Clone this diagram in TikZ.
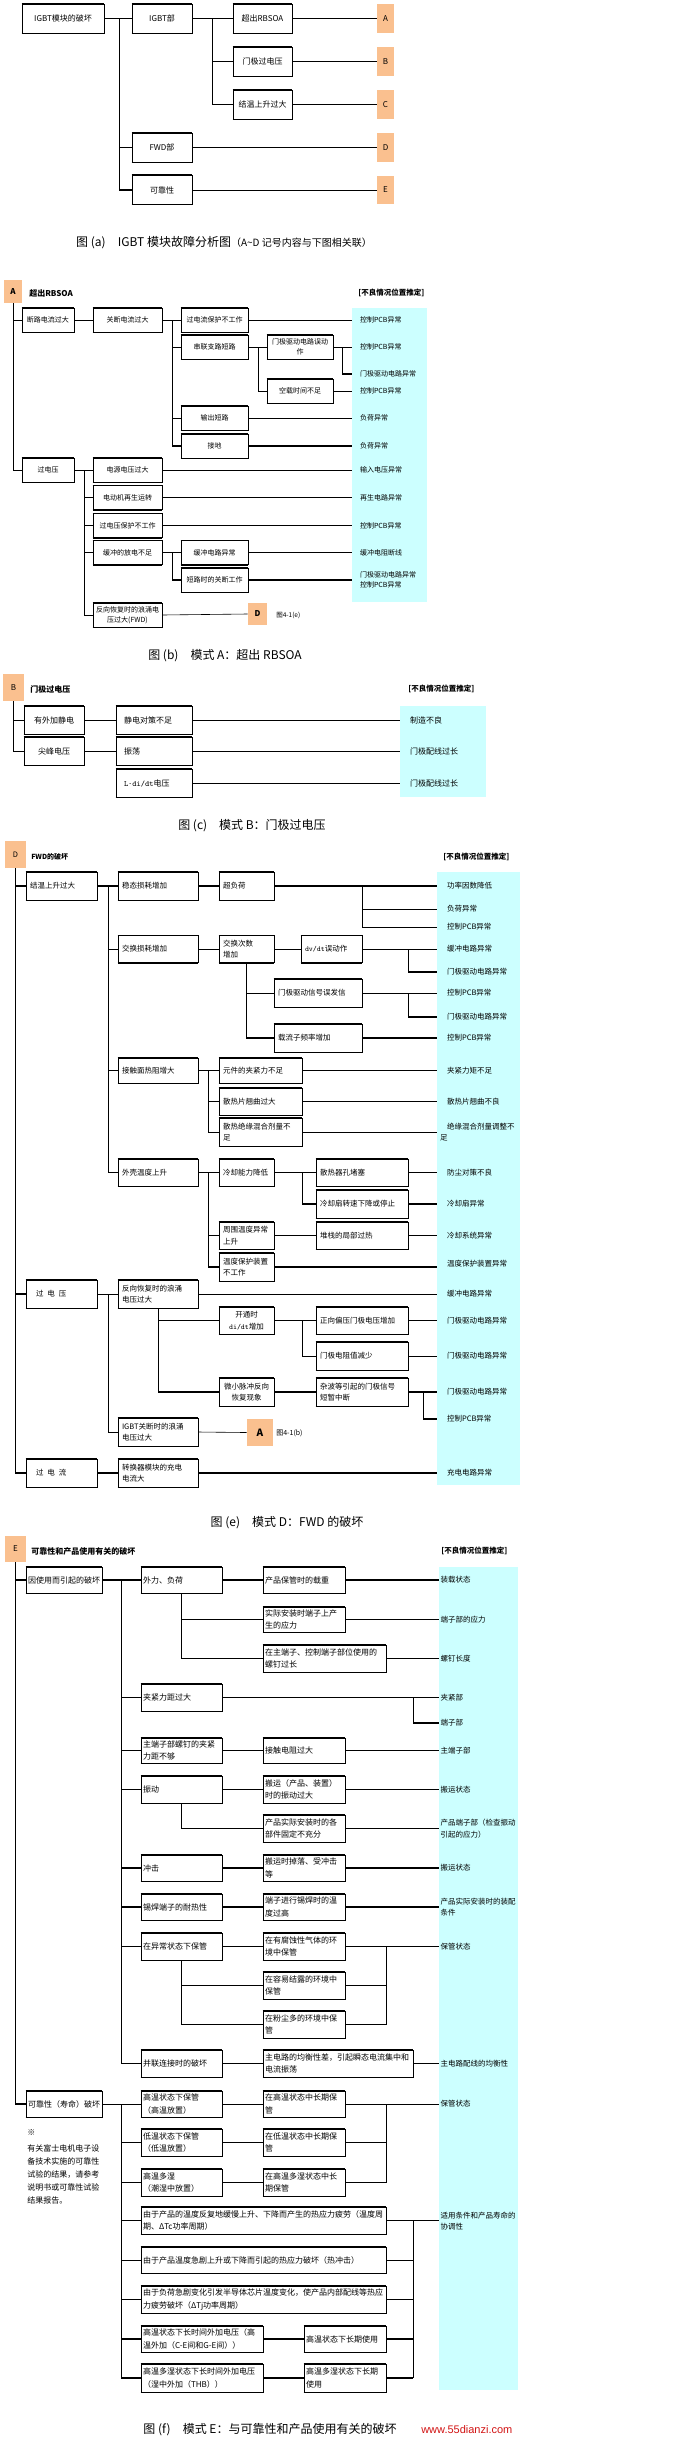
\documentclass[tikz,border=0pt]{standalone}
\usepackage{fontspec}
\setmainfont{Noto Sans CJK SC}
\newfontfamily\webfont{Liberation Sans}
\usetikzlibrary{calc}
\definecolor{markorange}{RGB}{250,192,143}
\definecolor{rescyan}{RGB}{204,255,255}
\definecolor{webred}{RGB}{210,20,20}
\tikzset{cell/.style={draw, line width=0.6pt, inner xsep=2pt, inner ysep=1pt, align=center,
        append after command={(\tikzlastnode.north west) edge[line width=1.4pt] (\tikzlastnode.north east)
            (\tikzlastnode.south west) edge[line width=1.4pt] (\tikzlastnode.south east)}},
    cw/.style 2 args={minimum width=#1pt, minimum height=#2pt},
    lw/.style 2 args={align=left, text width=#1pt, minimum height=#2pt},
    markbox/.style={fill=markorange, inner sep=0pt},
    res/.style={anchor=west, inner ysep=0pt, outer sep=0pt, align=left},
    secttl/.style={anchor=west, inner sep=0pt, font=\bfseries\fontsize{8}{10}\selectfont},
    hdr/.style={anchor=west, inner sep=0pt, font=\bfseries\fontsize{7.5}{9}\selectfont},
    heavy/.style={line width=1.6pt},
    capt/.style={font=\fontsize{12}{14}\selectfont},
    sz7/.style={font=\fontsize{7}{10.5}\selectfont},
    sz75/.style={font=\fontsize{7.5}{11.5}\selectfont},
    sz8/.style={font=\fontsize{8}{12.5}\selectfont}}

\begin{document}
\begin{tikzpicture}[x=1pt, y=-1pt, line width=0.6pt]
    \useasboundingbox (0,0) rectangle (693,2443);
    \fill[white] (0,0) rectangle (693,2443);

    % (a) overview
    \begin{scope}[every node/.append style={sz8}]
    \node[cell, cw={82}{29}] (a0) at (63,18.5) {IGBT模块的破坏};
    \node[cell, cw={60}{29}] (a1) at (162,18.5) {IGBT部};
    \node[cell, cw={59}{29}] (a2) at (262.5,18.5) {超出RBSOA};
    \node[cell, cw={59}{29}] (a3) at (262.5,61.5) {门极过电压};
    \node[cell, cw={59}{29}] (a4) at (262.5,104.5) {结温上升过大};
    \node[cell, cw={60}{29}] (a5) at (162,147.5) {FWD部};
    \node[cell, cw={60}{29}] (a6) at (162,190) {可靠性};
    \node[markbox, minimum width=17pt, minimum height=29pt] (ma) at (385.5,18.5) {A};
    \node[markbox, minimum width=17pt, minimum height=29pt] (mb) at (385.5,61.5) {B};
    \node[markbox, minimum width=17pt, minimum height=29pt] (mc) at (385.5,104.5) {C};
    \node[markbox, minimum width=17pt, minimum height=29pt] (md) at (385.5,147.5) {D};
    \node[markbox, minimum width=17pt, minimum height=28pt] (me) at (385.5,190) {E};
    \end{scope}
    \draw[heavy] (a0.east) -- (a1.west);
    \draw[heavy] (a0.east) ++(15,0) |- (a6.west);
    \draw (a0.east) ++(15,0) |- (a5.west);
    \draw[heavy] (a1.east) -- (a2.west);
    \draw (a1.east) ++(20,0) |- (a4.west);
    \draw (a1.east) ++(20,0) |- (a3.west);
    \draw[heavy] (a2.east) -- (ma.west);
    \draw (a3.east) -- (mb.west);
    \draw (a4.east) -- (mc.west);
    \draw (a5.east) -- (md.west);
    \draw (a6.east) -- (me.west);
    \node[capt] (capa) at (224,243) {图 (a)\quad IGBT 模块故障分析图{\fontsize{10}{12}\selectfont（A\textasciitilde D 记号内容与下图相关联）}};

    % (b) mode A
    \fill[rescyan] (352,308) rectangle (427,602);
    \begin{scope}[every node/.append style={sz7}]
    \node[markbox, minimum width=18pt, minimum height=23pt, font=\bfseries\fontsize{8}{9}\selectfont] (mA) at (13,291.5) {A};
    \node[secttl] (tA) at (29,293) {超出RBSOA};
    \node[hdr] (hA) at (358,293) {[不良情况位置推定]};
    \node[cell, cw={52}{24}] (b1) at (48,320) {断路电流过大};
    \node[cell, cw={69}{24}] (b2) at (127.5,320) {关断电流过大};
    \node[cell, cw={67}{24}] (b3) at (214.5,320) {过电流保护不工作};
    \node[cell, cw={67}{24}] (b4) at (214.5,347) {串联支路短路};
    \node[cell, cw={66}{24}] (b5) at (300,347) {门极驱动电路误动\\作};
    \node[cell, cw={66}{24}] (b6) at (300,391) {空载时间不足};
    \node[cell, cw={67}{24}] (b7) at (214.5,418) {输出短路};
    \node[cell, cw={67}{24}] (b8) at (214.5,446) {接地};
    \node[cell, cw={52}{24}] (b9) at (48,470) {过电压};
    \node[cell, cw={69}{24}] (b10) at (127.5,470) {电源电压过大};
    \node[cell, cw={69}{24}] (b11) at (127.5,497.5) {电动机再生运转};
    \node[cell, cw={69}{24}] (b12) at (127.5,525.5) {过电压保护不工作};
    \node[cell, cw={69}{24}] (b13) at (127.5,552.5) {缓冲的放电不足};
    \node[cell, cw={67}{24}] (b14) at (214.5,552.5) {缓冲电路异常};
    \node[cell, cw={67}{24}] (b15) at (214.5,580) {短路时的关断工作};
    \node[cell, cw={69}{24}] (b16) at (127.5,615) {反向恢复时的浪涌电\\压过大(FWD)};
    \node[markbox, minimum width=19pt, minimum height=22pt, font=\bfseries\fontsize{8}{9}\selectfont] (mD2) at (257.5,614) {D};
    \node[anchor=west, inner sep=0pt, font=\fontsize{6.5}{8}\selectfont] (ref1) at (276,615) {图4-1(e)};
    \node[res, inner xsep=8pt] (r1) at (352,320) {控制PCB异常};
    \node[res, inner xsep=8pt] (r2) at (352,347) {控制PCB异常};
    \node[res, inner xsep=8pt] (r3) at (352,374) {门极驱动电路异常};
    \node[res, inner xsep=8pt] (r4) at (352,391) {控制PCB异常};
    \node[res, inner xsep=8pt] (r5) at (352,418) {负荷异常};
    \node[res, inner xsep=8pt] (r6) at (352,446) {负荷异常};
    \node[res, inner xsep=8pt] (r7) at (352,470) {输入电压异常};
    \node[res, inner xsep=8pt] (r8) at (352,497.5) {再生电路异常};
    \node[res, inner xsep=8pt] (r9) at (352,525.5) {控制PCB异常};
    \node[res, inner xsep=8pt] (r10) at (352,552.5) {缓冲电阻断线};
    \node[res, inner xsep=8pt] (r11) at (352,580) {门极驱动电路异常\\控制PCB异常};
    \end{scope}
    \draw (mA.south) |- (b1.west);
    \draw (mA.south) |- (b9.west);
    \draw (b1.east) -- (b2.west);
    \draw (b2.east) -- (b3.west);
    \coordinate (bj1) at ($(b2.east)+(10,0)$);
    \draw (bj1) |- (b8.west);
    \draw (bj1 |- b4.west) -- (b4.west);
    \draw (bj1 |- b7.west) -- (b7.west);
    \draw[heavy] (bj1 |- b8.west) -- (b8.west);
    \draw (b4.east) -- (b5.west);
    \draw (b4.east) ++(10,0) |- (b6.west);
    \draw (b5.east) -- (r2.west);
    \draw (b5.east) ++(9,0) |- (r3.west);
    \draw[heavy] (r3.west -| b5.east) ++(9,0) -- (r3.west);
    \draw (b3.east) -- (r1.west);
    \draw (b6.east) -- (r4.west);
    \draw (b7.east) -- (r5.west);
    \draw[heavy] (b8.east) -- (r6.west);
    \draw (b9.east) -- (b10.west);
    \coordinate (bj2) at ($(b9.east)+(10,0)$);
    \draw (bj2) |- (b16.west);
    \draw[heavy] (bj2 |- b11.west) -- (b11.west);
    \draw[heavy] (bj2 |- b12.west) -- (b12.west);
    \draw (bj2 |- b13.west) -- (b13.west);
    \draw (b10.east) -- (r7.west);
    \draw[heavy] (b11.east) -- (r8.west);
    \draw[heavy] (b12.east) -- (r9.west);
    \draw (b13.east) -- (b14.west);
    \draw (b13.east) ++(10,0) |- (b15.west);
    \draw[heavy] (b15.west -| b13.east) ++(10,0) -- (b15.west);
    \draw (b14.east) -- (r10.west);
    \draw[heavy] (b15.east) -- (r11.west);
    \draw (b16.east) -- (mD2.west);
    \node[capt] (capb) at (225,656) {图 (b)\quad 模式 A：超出 RBSOA};

    % (c) mode B
    \fill[rescyan] (400,706) rectangle (486,797);
    \begin{scope}[every node/.append style={sz8}]
    \node[markbox, minimum width=21pt, minimum height=27pt] (mB) at (13.5,687.5) {B};
    \node[secttl] (tB) at (30,689) {门极过电压};
    \node[hdr] (hB) at (408,689) {[不良情况位置推定]};
    \node[cell, cw={60}{28}] (c1) at (54,720) {有外加静电};
    \node[cell, cw={60}{28}] (c2) at (54,751) {尖峰电压};
    \node[cell, lw={60}{28}, inner xsep=8pt] (c3) at (154,720) {静电对策不足};
    \node[cell, lw={60}{28}, inner xsep=8pt] (c4) at (154,751) {振荡};
    \node[cell, lw={60}{28}, inner xsep=8pt] (c5) at (154,783) {{\ttfamily L·di/dt}电压};
    \node[res, inner xsep=10pt] (q1) at (400,720) {制造不良};
    \node[res, inner xsep=10pt] (q2) at (400,751) {门极配线过长};
    \node[res, inner xsep=10pt] (q3) at (400,783) {门极配线过长};
    \end{scope}
    \draw (mB.south) |- (c1.west);
    \draw (mB.south) |- (c2.west);
    \draw (c1.east) -- (c3.west);
    \draw (c2.east) -- (c4.west);
    \draw (c3.east) -- (q1.west);
    \draw (c4.east) -- (q2.west);
    \draw (c5.east) -- (q3.west);
    \node[capt] (capc) at (252,826) {图 (c)\quad 模式 B：门极过电压};

    % (e) mode D
    \fill[rescyan] (437,872) rectangle (520,1485);
    \begin{scope}[every node/.append style={sz75}]
    \node[markbox, minimum width=21pt, minimum height=27pt] (mD) at (15.5,854.5) {D};
    \node[secttl, font=\bfseries\fontsize{7}{9}\selectfont] (tD) at (31,857) {FWD的破坏};
    \node[hdr] (hD) at (443,857) {[不良情况位置推定]};
    \node[cell, lw={63}{28}, inner xsep=4pt] (d1) at (61.5,886) {结温上升过大};
    \node[cell, lw={72}{28}, inner xsep=4pt] (d2) at (158,886) {稳态损耗增加};
    \node[cell, lw={47}{28}, inner xsep=4pt] (d3) at (246.5,886) {超负荷};
    \node[cell, lw={72}{27}, inner xsep=4pt] (d4) at (158,949) {交换损耗增加};
    \node[cell, lw={47}{27}, inner xsep=4pt] (d5) at (246.5,949) {交换次数\\增加};
    \node[cell, lw={53}{27}, inner xsep=4pt] (d6) at (331.5,949) {{\ttfamily dv/dt}误动作};
    \node[cell, lw={80}{28}, inner xsep=4pt] (d7) at (318,993) {门极驱动信号误发信};
    \node[cell, lw={80}{28}, inner xsep=4pt] (d8) at (318,1038) {载流子频率增加};
    \node[cell, lw={72}{25}, inner xsep=4pt] (d9) at (158,1070.5) {接触面热阻增大};
    \node[cell, lw={75}{25}, inner xsep=4pt] (d10) at (260.5,1070.5) {元件的夹紧力不足};
    \node[cell, lw={75}{27}, inner xsep=4pt] (d11) at (260.5,1101.5) {散热片翘曲过大};
    \node[cell, lw={75}{28}, inner xsep=4pt] (d12) at (260.5,1132) {散热绝缘混合剂量不\\足};
    \node[cell, lw={72}{27}, inner xsep=4pt] (d13) at (158,1172.5) {外壳温度上升};
    \node[cell, lw={47}{27}, inner xsep=4pt] (d14) at (246.5,1172.5) {冷却能力降低};
    \node[cell, lw={84}{27}, inner xsep=4pt] (d15) at (362,1172.5) {散热器孔堵塞};
    \node[cell, lw={84}{28}, inner xsep=4pt] (d16) at (362,1204) {冷却扇转速下降或停止};
    \node[cell, lw={47}{27}, inner xsep=4pt] (d17) at (246.5,1235.5) {周围温度异常\\上升};
    \node[cell, lw={84}{27}, inner xsep=4pt] (d18) at (362,1235.5) {堆栈的局部过热};
    \node[cell, lw={47}{28}, inner xsep=4pt] (d19) at (246.5,1267) {温度保护装置\\不工作};
    \node[cell, lw={63}{28}, inner xsep=4pt] (d20) at (61.5,1294) {\hspace*{6pt}过\hspace{4pt}电\hspace{4pt}压};
    \node[cell, lw={72}{28}, inner xsep=4pt] (d21) at (158,1294) {反向恢复时的浪涌\\电压过大};
    \node[cell, cw={55}{27}] (d22) at (246.5,1320.5) {开通时\\{\ttfamily di/dt}增加};
    \node[cell, lw={84}{27}, inner xsep=4pt] (d23) at (362,1320.5) {正向偏压门极电压增加};
    \node[cell, lw={84}{28}, inner xsep=4pt] (d24) at (362,1356) {门极电阻值减少};
    \node[cell, cw={55}{28}] (d25) at (246.5,1392) {微小脉冲反向\\恢复现象};
    \node[cell, lw={84}{28}, inner xsep=4pt] (d26) at (362,1392) {杂波等引起的门极信号\\短暂中断};
    \node[cell, lw={72}{28}, inner xsep=4pt] (d27) at (158,1432) {IGBT关断时的浪涌\\电压过大};
    \node[markbox, minimum width=26pt, minimum height=27pt, font=\bfseries\fontsize{10}{12}\selectfont] (mA2) at (260,1432.5) {A};
    \node[anchor=west, inner sep=0pt, font=\fontsize{7}{8}\selectfont] (ref2) at (276,1433) {图4-1(b)};
    \node[cell, lw={63}{28}, inner xsep=4pt] (d28) at (61.5,1473) {\hspace*{6pt}过\hspace{4pt}电\hspace{4pt}流};
    \node[cell, lw={72}{28}, inner xsep=4pt] (d29) at (158,1473) {转换器模块的充电\\电流大};
    \node[res, inner xsep=10pt] (s1) at (437,886) {功率因数降低};
    \node[res, inner xsep=10pt] (s2) at (437,909) {负荷异常};
    \node[res, inner xsep=10pt] (s3) at (437,927) {控制PCB异常};
    \node[res, inner xsep=10pt] (s4) at (437,949) {缓冲电路异常};
    \node[res, inner xsep=10pt] (s5) at (437,972) {门极驱动电路异常};
    \node[res, inner xsep=10pt] (s6) at (437,993) {控制PCB异常};
    \node[res, inner xsep=10pt] (s7) at (437,1017) {门极驱动电路异常};
    \node[res, inner xsep=10pt] (s8) at (437,1038) {控制PCB异常};
    \node[res, inner xsep=10pt] (s9) at (437,1070.5) {夹紧力矩不足};
    \node[res, inner xsep=10pt] (s10) at (437,1101.5) {散热片翘曲不良};
    \node[res, inner xsep=3pt] (s11) at (437,1132) {\hspace*{7pt}绝缘混合剂量调整不\\足};
    \node[res, inner xsep=10pt] (s12) at (437,1172.5) {防尘对策不良};
    \node[res, inner xsep=10pt] (s13) at (437,1204) {冷却扇异常};
    \node[res, inner xsep=10pt] (s14) at (437,1235.5) {冷却系统异常};
    \node[res, inner xsep=10pt] (s15) at (437,1264) {温度保护装置异常};
    \node[res, inner xsep=10pt] (s16) at (437,1294) {缓冲电路异常};
    \node[res, inner xsep=10pt] (s17) at (437,1320.5) {门极驱动电路异常};
    \node[res, inner xsep=10pt] (s18) at (437,1356) {门极驱动电路异常};
    \node[res, inner xsep=10pt] (s19) at (437,1392) {门极驱动电路异常};
    \node[res, inner xsep=10pt] (s20) at (437,1419) {控制PCB异常};
    \node[res, inner xsep=10pt] (s21) at (437,1473) {充电电路异常};
    \end{scope}
    \draw[heavy] (mD.south) |- (d1.west);
    \draw[heavy] (mD.south) |- (d28.west);
    \draw[heavy] (mD.south |- d20.west) -- (d20.west);
    \draw[heavy] (d1.east) -- (d2.west);
    \coordinate (dj1) at ($(d1.east)+(11,0)$);
    \draw[heavy] (dj1) -- (dj1 |- d13.west);
    \foreach \n in {d4,d9,d13} \draw (dj1 |- \n.west) -- (\n.west);
    \draw[heavy] (d2.east) -- (d3.west);
    \draw[heavy] (d3.east) -- (s1.west);
    \coordinate (dk1) at (d3.east -| d6.east);
    \draw (dk1) |- (s3.west);
    \draw (dk1 |- s2.west) -- (s2.west);
    \draw (d4.east) -- (d5.west);
    \draw (d5.east) -- (d6.west);
    \draw (d6.east) -- (s4.west);
    \coordinate (dk2) at ($(d6.east)+(46,0)$);
    \draw (dk2) -- (dk2 |- s5.west);
    \draw[heavy] (dk2 |- s5.west) -- (s5.west);
    \draw (d5.south) |- (d7.west);
    \draw[heavy] (d5.south) |- (d8.west);
    \draw (d7.east) -- (s6.west);
    \coordinate (dk3) at ($(d7.east)+(46,0)$);
    \draw (dk3) -- (dk3 |- s7.west);
    \draw[heavy] (dk3 |- s7.west) -- (s7.west);
    \draw[heavy] (d8.east) -- (s8.west);
    \draw (d9.east) -- (d10.west);
    \coordinate (dj2) at ($(d9.east)+(10,0)$);
    \draw (dj2) |- (d12.west);
    \draw[heavy] (dj2 |- d11.west) -- (d11.west);
    \draw (d10.east) -- (s9.west);
    \draw[heavy] (d11.east) -- (s10.west);
    \draw (d12.east) -- (s11.west);
    \draw (d13.east) -- (d14.west);
    \coordinate (dj3) at ($(d13.east)+(10,0)$);
    \draw (dj3) |- (d19.west);
    \draw (dj3 |- d17.west) -- (d17.west);
    \draw[heavy] (dj3 |- d19.west) -- (d19.west);
    \draw (d14.east) -- (d15.west);
    \coordinate (dj4) at ($(d14.east)+(28,0)$);
    \draw (dj4) |- (d16.west);
    \draw[heavy] (dj4 |- d16.west) -- (d16.west);
    \draw (d15.east) -- (s12.west);
    \draw[heavy] (d16.east) -- (s13.west);
    \draw (d17.east) -- (d18.west);
    \draw (d18.east) -- (s14.west);
    \draw[heavy] (d19.east) -- (s15.west |- d19.east);
    \draw (d20.east) -- (d21.west);
    \coordinate (dj5) at ($(d20.east)+(11,0)$);
    \draw[heavy] (dj5) -- (dj5 |- d27.west);
    \draw (dj5 |- d27.west) -- (d27.west);
    \draw (d21.east) -- (s16.west);
    \draw (d21.south) |- (d25.west);
    \draw (d21.south |- d22.west) -- (d22.west);
    \draw[heavy] (d21.south |- d25.west) -- (d25.west);
    \draw (d22.east) -- (d23.west);
    \coordinate (dj6) at ($(d22.east)+(28,0)$);
    \draw (dj6) |- (d24.west);
    \draw (d23.east) -- (s17.west);
    \draw (d24.east) -- (s18.west);
    \draw[heavy] (d25.east) -- (d26.west);
    \draw[heavy] (d26.east) -- (s19.west);
    \draw[heavy] (d26.east) ++(15,0) |- (s20.west);
    \draw (d27.east) -- (mA2.west);
    \draw[heavy] (d28.east) -- (d29.west);
    \draw[heavy] (d29.east) -- (s21.west);
    \node[capt] (cape) at (287,1523) {图 (e)\quad 模式 D：FWD 的破坏};

    % (f) mode E
    \fill[rescyan] (439,1567) rectangle (518,2390);
    \begin{scope}[every node/.append style={sz8}]
    \node[markbox, minimum width=21pt, minimum height=26pt] (mE) at (15.5,1549) {E};
    \node[secttl] (tE) at (31,1551) {可靠性和产品使用有关的破坏};
    \node[hdr] (hE) at (441,1551) {[不良情况位置推定]};
    \node[cell, lw={72}{26}] (e1) at (64,1580) {因使用而引起的破坏};
    \node[cell, lw={77}{26}] (e2) at (181.5,1580) {外力、负荷};
    \node[cell, lw={78}{26}] (e3) at (304,1580) {产品保管时的载重};
    \node[cell, lw={78}{25}] (e4) at (304,1619.5) {实际安装时端子上产\\生的应力};
    \node[cell, lw={119}{27}] (e5) at (324.5,1658.5) {在主端子、控制端子部位使用的\\螺钉过长};
    \node[cell, lw={77}{27}] (e6) at (181.5,1697.5) {夹紧力距过大};
    \node[cell, lw={77}{25}] (e7) at (181.5,1750.5) {主端子部螺钉的夹紧\\力距不够};
    \node[cell, lw={78}{25}] (e8) at (304,1750.5) {接触电阻过大};
    \node[cell, lw={77}{27}] (e9) at (181.5,1789.5) {振动};
    \node[cell, lw={78}{27}] (e10) at (304,1789.5) {搬运（产品、装置）\\时的振动过大};
    \node[cell, lw={78}{27}] (e11) at (304,1828.5) {产品实际安装时的各\\部件固定不充分};
    \node[cell, lw={77}{26}] (e12) at (181.5,1868) {冲击};
    \node[cell, lw={78}{26}] (e13) at (304,1868) {搬运时掉落、受冲击\\等};
    \node[cell, lw={77}{26}] (e14) at (181.5,1907) {锡焊端子的耐热性};
    \node[cell, lw={78}{26}] (e15) at (304,1907) {端子进行锡焊时的温\\度过高};
    \node[cell, lw={77}{27}] (e16) at (181.5,1946.5) {在异常状态下保管};
    \node[cell, lw={78}{27}] (e17) at (304,1946.5) {在有腐蚀性气体的环\\境中保管};
    \node[cell, lw={78}{27}] (e18) at (304,1985.5) {在容易结露的环境中\\保管};
    \node[cell, lw={78}{27}] (e19) at (304,2024.5) {在粉尘多的环境中保\\管};
    \node[cell, lw={77}{27}] (e20) at (181.5,2063.5) {并联连接时的破坏};
    \node[cell, lw={146}{27}] (e21) at (338,2063.5) {主电路的均衡性差，引起瞬态电流集中和\\电流振荡};
    \node[cell, lw={72}{26}] (e22) at (64,2104) {可靠性（寿命）破坏};
    \node[cell, lw={77}{26}] (e23) at (181.5,2104) {高温状态下保管\\（高温放置）};
    \node[cell, lw={78}{26}] (e24) at (304,2104) {在高温状态中长期保\\管};
    \node[cell, lw={77}{27}] (e25) at (181.5,2142.5) {低温状态下保管\\（低温放置）};
    \node[cell, lw={78}{27}] (e26) at (304,2142.5) {在低温状态中长期保\\管};
    \node[cell, lw={77}{27}] (e27) at (181.5,2182.5) {高温多湿\\（潮湿中放置）};
    \node[cell, lw={78}{27}] (e28) at (304,2182.5) {在高温多湿状态中长\\期保管};
    \node[cell, lw={241}{27}] (e29) at (263.5,2220.5) {由于产品的温度反复地缓慢上升、下降而产生的热应力疲劳（温度周\\期、ΔTc功率周期）};
    \node[cell, lw={241}{26}] (e30) at (263.5,2260) {由于产品温度急剧上升或下降而引起的热应力破坏（热冲击）};
    \node[cell, lw={241}{27}] (e31) at (263.5,2299.5) {由于负荷急剧变化引发半导体芯片温度变化，使产品内部配线等热应\\力疲劳破坏（ΔTj功率周期）};
    \node[cell, lw={118}{26}] (e32) at (202,2339) {高温状态下长时间外加电压（高\\温外加（C-E间和G-E间））};
    \node[cell, lw={78}{26}] (e33) at (345,2339) {高温状态下长期使用};
    \node[cell, lw={118}{28}] (e34) at (202,2378) {高温多湿状态下长时间外加电压\\（湿中外加（THB））};
    \node[cell, lw={78}{28}] (e35) at (345,2378) {高温多湿状态下长期\\使用};
    \node[anchor=north west, inner sep=0pt, align=left, font=\fontsize{8}{13}\selectfont] (note) at (27,2129) {※\\[3pt]有关富士电机电子设\\备技术实施的可靠性\\试验的结果，请参考\\说明书或可靠性试验\\结果报告。};
    \end{scope}
    \begin{scope}[every node/.append style={sz75}]
    \node[res, inner xsep=1.5pt] (u1) at (439,1580) {装载状态};
    \node[res, inner xsep=1.5pt] (u2) at (439,1619.5) {端子部的应力};
    \node[res, inner xsep=1.5pt] (u3) at (439,1658.5) {螺钉长度};
    \node[res, inner xsep=1.5pt] (u4) at (439,1697.5) {夹紧部};
    \node[res, inner xsep=1.5pt] (u5) at (439,1723) {端子部};
    \node[res, inner xsep=1.5pt] (u6) at (439,1750.5) {主端子部};
    \node[res, inner xsep=1.5pt] (u7) at (439,1789.5) {搬运状态};
    \node[res, inner xsep=1.5pt] (u8) at (439,1828.5) {产品端子部（检查振动\\引起的应力）};
    \node[res, inner xsep=1.5pt] (u9) at (439,1868) {搬运状态};
    \node[res, inner xsep=1.5pt] (u10) at (439,1907) {产品实际安装时的装配\\条件};
    \node[res, inner xsep=1.5pt] (u11) at (439,1946.5) {保管状态};
    \node[res, inner xsep=1.5pt] (u12) at (439,2063.5) {主电路配线的均衡性};
    \node[res, inner xsep=1.5pt] (u13) at (439,2104) {保管状态};
    \node[res, inner xsep=1.5pt] (u14) at (439,2221) {适用条件和产品寿命的\\协调性};
    \end{scope}
    \draw[heavy] (mE.south) |- (e1.west);
    \draw[heavy] (mE.south) |- (e22.west);
    \draw[heavy] (e1.east) -- (e2.west);
    \coordinate (ej1) at ($(e1.east)+(19,0)$);
    \draw (ej1) -- (ej1 |- e20.west);
    \foreach \n in {e6,e9,e16} \draw (ej1 |- \n.west) -- (\n.west);
    \foreach \n in {e7,e12,e14,e20} \draw[heavy] (ej1 |- \n.west) -- (\n.west);
    \draw[heavy] (e2.east) -- (e3.west);
    \draw[heavy] (e3.east) -- (u1.west);
    \draw (e2.south) |- (e5.west);
    \draw[heavy] (e2.south |- e4.west) -- (e4.west);
    \draw[heavy] (e4.east) -- (u2.west);
    \draw (e5.east) -- (u3.west);
    \draw (e6.east) -- (u4.west);
    \coordinate (ek1) at (u4.west -| e21.east);
    \draw[heavy] (ek1) |- (u5.west);
    \draw[heavy] (e7.east) -- (e8.west);
    \draw[heavy] (e8.east) -- (u6.west);
    \draw (e9.east) -- (e10.west);
    \draw (e10.east) -- (u7.west);
    \draw (e9.south) |- (e11.west);
    \draw (e11.east) -- (u8.west);
    \draw[heavy] (e12.east) -- (e13.west);
    \draw[heavy] (e13.east) -- (u9.west);
    \draw[heavy] (e14.east) -- (e15.west);
    \draw[heavy] (e15.east) -- (u10.west);
    \draw (e16.east) -- (e17.west);
    \draw (e17.east) -- (u11.west);
    \draw (e16.south) |- (e18.west);
    \draw (e16.south) |- (e19.west);
    \draw[heavy] (e16.south |- e19.west) -- (e19.west);
    \coordinate (ek2) at (e17.east -| e5.east);
    \draw[line width=1pt] (ek2) -- (ek2 |- e19.east);
    \draw (e18.east) -- (ek2 |- e18.east);
    \draw[heavy] (e19.east) -- (ek2 |- e19.east);
    \draw[heavy] (e20.east) -- (e21.west);
    \draw[heavy] (e21.east) -- (u12.west);
    \draw (e22.east) -- (e23.west);
    \coordinate (ej2) at ($(e22.east)+(19,0)$);
    \draw (ej2) -- (ej2 |- e34.west);
    \foreach \n in {e25,e30,e31} \draw (ej2 |- \n.west) -- (\n.west);
    \foreach \n in {e27,e29,e32,e34} \draw[heavy] (ej2 |- \n.west) -- (\n.west);
    \draw (e23.east) -- (e24.west);
    \draw (e25.east) -- (e26.west);
    \draw[heavy] (e27.east) -- (e28.west);
    \coordinate (ek3) at (e24.east -| e5.east);
    \draw (e24.east) -- (u13.west);
    \draw[line width=1pt] (ek3) -- (ek3 |- e28.east);
    \draw (e26.east) -- (ek3 |- e26.east);
    \draw[heavy] (e28.east) -- (ek3 |- e28.east);
    \draw[heavy] (e29.east) -- (u14.west |- e29.east);
    \coordinate (ek4) at (e29.east -| e21.east);
    \draw (ek4) -- (ek4 |- e35.east);
    \foreach \n in {e30,e31} \draw (\n.east) -- (ek4 |- \n.east);
    \foreach \n in {e33,e35} \draw[heavy] (\n.east) -- (ek4 |- \n.east);
    \draw[heavy] (e32.east) -- (e33.west);
    \draw[heavy] (e34.east) -- (e35.west);
    \node[capt] (capf) at (270,2430) {图 (f)\quad 模式 E：与可靠性和产品使用有关的破坏};
    \node[anchor=west, inner sep=0pt, text=webred, font=\webfont\fontsize{11}{13}\selectfont] (web) at (421,2430) {www.55dianzi.com};
\end{tikzpicture}
\end{document}
